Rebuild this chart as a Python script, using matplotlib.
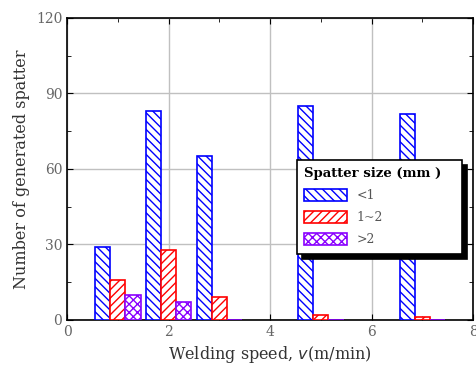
import numpy as np
import matplotlib.pyplot as plt
from matplotlib.patches import Patch

plt.rcParams['font.family'] = ['DejaVu Serif']
plt.rcParams['hatch.linewidth'] = 1.0

# data
speeds = [1, 2, 3, 5, 7]
small = [29, 83, 65, 85, 82]      # <1 mm
medium = [16, 28, 9, 2, 1]        # 1~2 mm
large = [10, 7, 0, 0, 0]          # >2 mm
labels = ["<1", "1~2", ">2"]

fig = plt.figure(figsize=(4.76, 3.71), dpi=100)
ax = fig.add_axes([0.141, 0.1375, 0.853, 0.814])

w = 0.3
x = np.array(speeds, dtype=float)
series = [(small, -w, "blue", "\\\\\\\\"),
          (medium, 0, "red", "////"),
          (large, w, "#8a00ff", "xxxx")]
for vals, off, col, hatch in series:
    ax.bar(x + off, vals, width=w, facecolor="white", edgecolor=col,
           hatch=hatch, linewidth=1.2, zorder=3)

ax.set_xlim(0, 8)
ax.set_ylim(0, 120)
ax.set_xticks([0, 2, 4, 6, 8])
ax.set_xticks([1, 3, 5, 7], minor=True)
ax.set_yticks([0, 30, 60, 90, 120])
ax.set_yticks([15, 45, 75, 105], minor=True)
ax.grid(True, which="major", color="#c0c0c0", linewidth=1, zorder=0)
ax.tick_params(which="both", direction="in", top=True, right=True,
               labelsize=10, labelcolor="#666666", length=4)
ax.tick_params(which="minor", length=3)
for s in ax.spines.values():
    s.set_linewidth(1.2)

ax.set_xlabel("Welding speed, $v$(m/min)", fontsize=11.5, color="#333333")
ax.set_ylabel("Number of generated spatter", fontsize=11.5, color="#333333")

handles = [Patch(facecolor="white", edgecolor=c, hatch=h, linewidth=1.2)
           for _, _, c, h in series]
leg = ax.legend(handles, labels, title="Spatter size (mm )",
                loc="upper left", bbox_to_anchor=(0.566, 0.23, 0.406, 0.3),
                mode="expand", borderaxespad=0,
                frameon=True, fancybox=False, edgecolor="black",
                framealpha=1, borderpad=0.6, handlelength=3.4,
                handleheight=1.1, labelspacing=0.7, fontsize=9,
                title_fontproperties={"weight": "bold", "size": 9.5},
                shadow={"ox": 4, "oy": -4, "color": "black", "alpha": 1})
leg._legend_box.align = "left"
leg.get_frame().set_linewidth(1.2)
for t in leg.get_texts():
    t.set_color("#555555")

fig.savefig("out.png", dpi=100)
